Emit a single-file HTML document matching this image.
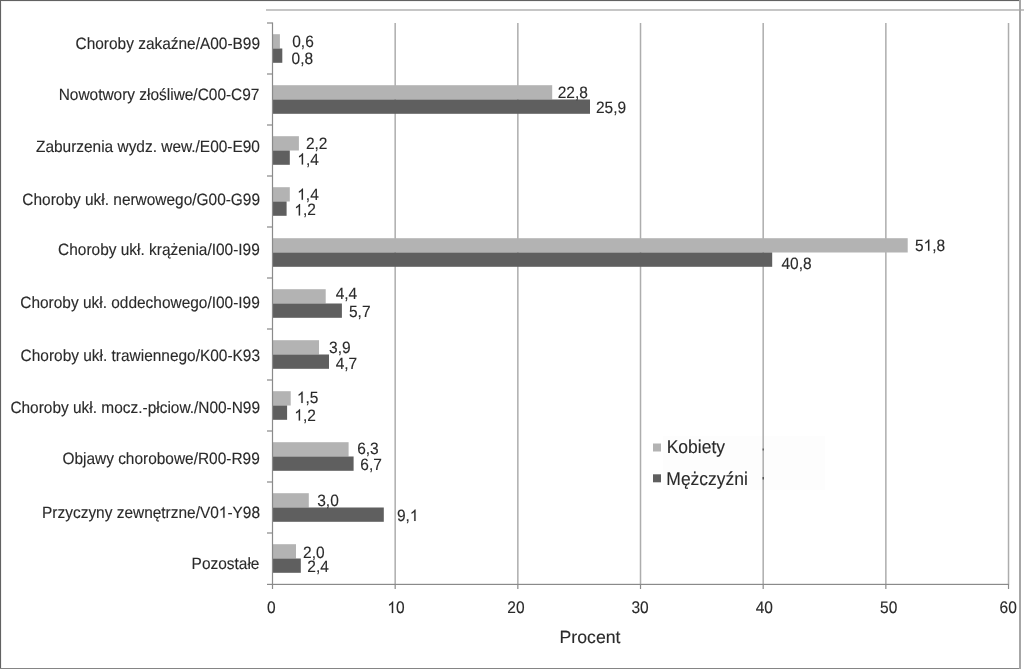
<!DOCTYPE html>
<html><head><meta charset="utf-8"><style>
html,body{margin:0;padding:0;background:#fff;}
body{width:1024px;height:669px;overflow:hidden;position:relative;}
svg{position:absolute;left:0;top:0;will-change:transform;}
#w{position:absolute;left:0;top:0;width:1024px;height:669px;}
text{font-family:"Liberation Sans",sans-serif;fill:#2a2a2a;text-rendering:geometricPrecision;stroke:#2a2a2a;stroke-width:0.12px;}
path.one{fill:#2a2a2a;stroke:#2a2a2a;stroke-width:0.12px;vector-effect:non-scaling-stroke;}
</style></head><body><div id="w">
<svg width="1024" height="669" viewBox="0 0 1024 669">
<rect x="0" y="0" width="1024" height="669" fill="#fff"/>

<rect x="266" y="9" width="758" height="2" fill="#c6c6c6"/>
<rect x="0" y="1" width="1019" height="1" fill="#f2f2f2"/>
<rect x="1" y="0" width="1" height="669" fill="#f2f2f2"/>
<rect x="0" y="0" width="1020" height="1" fill="#626262"/>
<rect x="0" y="0" width="1" height="669" fill="#626262"/>
<rect x="0" y="668" width="1020" height="1" fill="#858585"/>
<rect x="1019" y="0" width="2" height="669" fill="#a6a6a6"/>
<rect x="663" y="436" width="162" height="54" fill="#fdfdfd"/>
<rect x="394.42" y="23" width="1.5" height="561.5" fill="#adadad"/>
<rect x="517.09" y="23" width="1.5" height="561.5" fill="#adadad"/>
<rect x="639.76" y="23" width="1.5" height="561.5" fill="#adadad"/>
<rect x="762.43" y="23" width="1.5" height="561.5" fill="#adadad"/>
<rect x="885.10" y="23" width="1.5" height="561.5" fill="#adadad"/>
<rect x="1007.77" y="23" width="1.5" height="561.5" fill="#adadad"/>
<rect x="272.50" y="34.20" width="7.40" height="14.3" fill="#b3b3b3"/>
<rect x="272.50" y="48.50" width="9.80" height="14.3" fill="#5f5f5f"/>
<rect x="272.50" y="85.20" width="279.70" height="14.3" fill="#b3b3b3"/>
<rect x="272.50" y="99.50" width="317.50" height="14.3" fill="#5f5f5f"/>
<rect x="272.50" y="136.20" width="26.40" height="14.3" fill="#b3b3b3"/>
<rect x="272.50" y="150.50" width="17.30" height="14.3" fill="#5f5f5f"/>
<rect x="272.50" y="187.20" width="17.30" height="14.3" fill="#b3b3b3"/>
<rect x="272.50" y="201.50" width="14.10" height="14.3" fill="#5f5f5f"/>
<rect x="272.50" y="238.20" width="635.20" height="14.3" fill="#b3b3b3"/>
<rect x="272.50" y="252.50" width="499.70" height="14.3" fill="#5f5f5f"/>
<rect x="272.50" y="289.20" width="53.20" height="14.3" fill="#b3b3b3"/>
<rect x="272.50" y="303.50" width="69.40" height="14.3" fill="#5f5f5f"/>
<rect x="272.50" y="340.20" width="46.50" height="14.3" fill="#b3b3b3"/>
<rect x="272.50" y="354.50" width="56.50" height="14.3" fill="#5f5f5f"/>
<rect x="272.50" y="391.20" width="18.20" height="14.3" fill="#b3b3b3"/>
<rect x="272.50" y="405.50" width="14.60" height="14.3" fill="#5f5f5f"/>
<rect x="272.50" y="442.20" width="76.10" height="14.3" fill="#b3b3b3"/>
<rect x="272.50" y="456.50" width="81.10" height="14.3" fill="#5f5f5f"/>
<rect x="272.50" y="493.20" width="36.30" height="14.3" fill="#b3b3b3"/>
<rect x="272.50" y="507.50" width="111.30" height="14.3" fill="#5f5f5f"/>
<rect x="272.50" y="544.20" width="23.50" height="14.3" fill="#b3b3b3"/>
<rect x="272.50" y="558.50" width="28.30" height="14.3" fill="#5f5f5f"/>
<rect x="271.90" y="22.5" width="1.2" height="562.0" fill="#8a8a8a"/>
<rect x="267" y="22.40" width="5.50" height="1.2" fill="#8a8a8a"/>
<rect x="267" y="73.40" width="5.50" height="1.2" fill="#8a8a8a"/>
<rect x="267" y="124.40" width="5.50" height="1.2" fill="#8a8a8a"/>
<rect x="267" y="175.40" width="5.50" height="1.2" fill="#8a8a8a"/>
<rect x="267" y="226.40" width="5.50" height="1.2" fill="#8a8a8a"/>
<rect x="267" y="277.40" width="5.50" height="1.2" fill="#8a8a8a"/>
<rect x="267" y="328.40" width="5.50" height="1.2" fill="#8a8a8a"/>
<rect x="267" y="379.40" width="5.50" height="1.2" fill="#8a8a8a"/>
<rect x="267" y="430.40" width="5.50" height="1.2" fill="#8a8a8a"/>
<rect x="267" y="481.40" width="5.50" height="1.2" fill="#8a8a8a"/>
<rect x="267" y="532.40" width="5.50" height="1.2" fill="#8a8a8a"/>
<rect x="267" y="583.80" width="5.50" height="1.2" fill="#8a8a8a"/>
<rect x="271.90" y="583.8" width="736.62" height="1.2" fill="#8a8a8a"/>
<rect x="271.90" y="584" width="1.2" height="5" fill="#8a8a8a"/>
<rect x="394.57" y="584" width="1.2" height="5" fill="#8a8a8a"/>
<rect x="517.24" y="584" width="1.2" height="5" fill="#8a8a8a"/>
<rect x="639.91" y="584" width="1.2" height="5" fill="#8a8a8a"/>
<rect x="762.58" y="584" width="1.2" height="5" fill="#8a8a8a"/>
<rect x="885.25" y="584" width="1.2" height="5" fill="#8a8a8a"/>
<rect x="1007.92" y="584" width="1.2" height="5" fill="#8a8a8a"/>
<text transform="translate(260.05,49.00) scale(1,1.06)" font-size="15.45" text-anchor="end">Choroby zakaźne/A00-B99</text>
<text transform="translate(259.45,99.60) scale(1,1.06)" font-size="15.45" text-anchor="end">Nowotwory złośliwe/C00-C97</text>
<text transform="translate(259.94,152.30) scale(1,1.06)" font-size="15.45" text-anchor="end">Zaburzenia wydz. wew./E00-E90</text>
<text transform="translate(260.05,204.60) scale(1,1.06)" font-size="15.45" text-anchor="end">Choroby ukł. nerwowego/G00-G99</text>
<text transform="translate(259.75,255.40) scale(1,1.06)" font-size="15.45" text-anchor="end">Choroby ukł. krążenia/I00-I99</text>
<text transform="translate(259.75,307.90) scale(1,1.06)" font-size="15.45" text-anchor="end">Choroby ukł. oddechowego/I00-I99</text>
<text transform="translate(260.03,361.10) scale(1,1.06)" font-size="15.45" text-anchor="end">Choroby ukł. trawiennego/K00-K93</text>
<text transform="translate(260.05,412.50) scale(1,1.06)" font-size="15.45" text-anchor="end">Choroby ukł. mocz.-płciow./N00-N99</text>
<text transform="translate(259.75,463.90) scale(1,1.06)" font-size="15.45" text-anchor="end">Objawy chorobowe/R00-R99</text>
<text transform="translate(260.01,517.80) scale(1,1.06)" font-size="15.45" text-anchor="end">Przyczyny zewnętrzne/V0 -Y98</text>
<text transform="translate(259.41,568.70) scale(1,1.06)" font-size="15.45" text-anchor="end">Pozostałe</text>
<text transform="translate(292.22,46.80) scale(1,1.06)" font-size="15.5">0,6</text>
<text transform="translate(291.59,63.80) scale(1,1.06)" font-size="15.5">0,8</text>
<text transform="translate(557.73,97.80) scale(1,1.06)" font-size="15.5">22,8</text>
<text transform="translate(595.93,113.20) scale(1,1.06)" font-size="15.5">25,9</text>
<text transform="translate(305.93,148.80) scale(1,1.06)" font-size="15.5">2,2</text>
<text transform="translate(297.31,164.50) scale(1,1.06)" font-size="15.5"> ,4</text>
<text transform="translate(297.21,199.80) scale(1,1.06)" font-size="15.5"> ,4</text>
<text transform="translate(294.31,215.40) scale(1,1.06)" font-size="15.5"> ,2</text>
<text transform="translate(914.98,250.80) scale(1,1.06)" font-size="15.5">5 ,8</text>
<text transform="translate(781.44,269.00) scale(1,1.06)" font-size="15.5">40,8</text>
<text transform="translate(335.68,299.00) scale(1,1.06)" font-size="15.5">4,4</text>
<text transform="translate(348.98,316.90) scale(1,1.06)" font-size="15.5">5,7</text>
<text transform="translate(329.05,352.80) scale(1,1.06)" font-size="15.5">3,9</text>
<text transform="translate(335.68,368.80) scale(1,1.06)" font-size="15.5">4,7</text>
<text transform="translate(296.91,402.90) scale(1,1.06)" font-size="15.5"> ,5</text>
<text transform="translate(294.31,420.50) scale(1,1.06)" font-size="15.5"> ,2</text>
<text transform="translate(357.15,454.20) scale(1,1.06)" font-size="15.5">6,3</text>
<text transform="translate(360.35,469.90) scale(1,1.06)" font-size="15.5">6,7</text>
<text transform="translate(317.25,505.50) scale(1,1.06)" font-size="15.5">3,0</text>
<text transform="translate(396.89,520.90) scale(1,1.06)" font-size="15.5">9, </text>
<text transform="translate(303.11,557.80) scale(1,1.06)" font-size="15.5">2,0</text>
<text transform="translate(307.31,571.90) scale(1,1.06)" font-size="15.5">2,4</text>
<text transform="translate(271.40,613.00) scale(1,1.08)" font-size="15.5" text-anchor="middle">0</text>
<text transform="translate(396.03,613.00) scale(1,1.08)" font-size="15.5" text-anchor="middle"> 0</text>
<text transform="translate(515.89,613.00) scale(1,1.08)" font-size="15.5" text-anchor="middle">20</text>
<text transform="translate(640.11,613.00) scale(1,1.08)" font-size="15.5" text-anchor="middle">30</text>
<text transform="translate(764.33,613.00) scale(1,1.08)" font-size="15.5" text-anchor="middle">40</text>
<text transform="translate(888.63,613.00) scale(1,1.08)" font-size="15.5" text-anchor="middle">50</text>
<text transform="translate(1008.24,613.00) scale(1,1.08)" font-size="15.5" text-anchor="middle">60</text>
<text x="590.00" y="643.00" font-size="17.7" text-anchor="middle">Procent</text>
<rect x="762.5" y="448.5" width="1.5" height="2" fill="#666"/>
<rect x="762.5" y="477" width="1.5" height="2.5" fill="#555"/>
<rect x="653" y="443.5" width="8" height="8" fill="#b3b3b3"/>
<rect x="653" y="474.3" width="8" height="8" fill="#5f5f5f"/>
<text transform="translate(666.69,453.10) scale(1,1.06)" font-size="17.5">Kobiety</text>
<text transform="translate(666.30,484.70) scale(1,1.06)" font-size="17.5">Mężczyźni</text>
<path class="one" transform="translate(218.81,517.80) scale(0.007544,-0.007997)" d="M763 0H583V1098Q518 1039 412 980Q307 920 223 890V1057Q374 1125 487 1222Q600 1318 647 1409H763Z"/>
<path class="one" transform="translate(297.31,164.50) scale(0.007568,-0.008022)" d="M763 0H583V1098Q518 1039 412 980Q307 920 223 890V1057Q374 1125 487 1222Q600 1318 647 1409H763Z"/>
<path class="one" transform="translate(297.21,199.80) scale(0.007568,-0.008022)" d="M763 0H583V1098Q518 1039 412 980Q307 920 223 890V1057Q374 1125 487 1222Q600 1318 647 1409H763Z"/>
<path class="one" transform="translate(294.31,215.40) scale(0.007568,-0.008022)" d="M763 0H583V1098Q518 1039 412 980Q307 920 223 890V1057Q374 1125 487 1222Q600 1318 647 1409H763Z"/>
<path class="one" transform="translate(923.59,250.80) scale(0.007568,-0.008022)" d="M763 0H583V1098Q518 1039 412 980Q307 920 223 890V1057Q374 1125 487 1222Q600 1318 647 1409H763Z"/>
<path class="one" transform="translate(296.91,402.90) scale(0.007568,-0.008022)" d="M763 0H583V1098Q518 1039 412 980Q307 920 223 890V1057Q374 1125 487 1222Q600 1318 647 1409H763Z"/>
<path class="one" transform="translate(294.31,420.50) scale(0.007568,-0.008022)" d="M763 0H583V1098Q518 1039 412 980Q307 920 223 890V1057Q374 1125 487 1222Q600 1318 647 1409H763Z"/>
<path class="one" transform="translate(409.81,520.90) scale(0.007568,-0.008022)" d="M763 0H583V1098Q518 1039 412 980Q307 920 223 890V1057Q374 1125 487 1222Q600 1318 647 1409H763Z"/>
<path class="one" transform="translate(387.40,613.00) scale(0.007568,-0.008174)" d="M763 0H583V1098Q518 1039 412 980Q307 920 223 890V1057Q374 1125 487 1222Q600 1318 647 1409H763Z"/>
</svg></div>
</body></html>
